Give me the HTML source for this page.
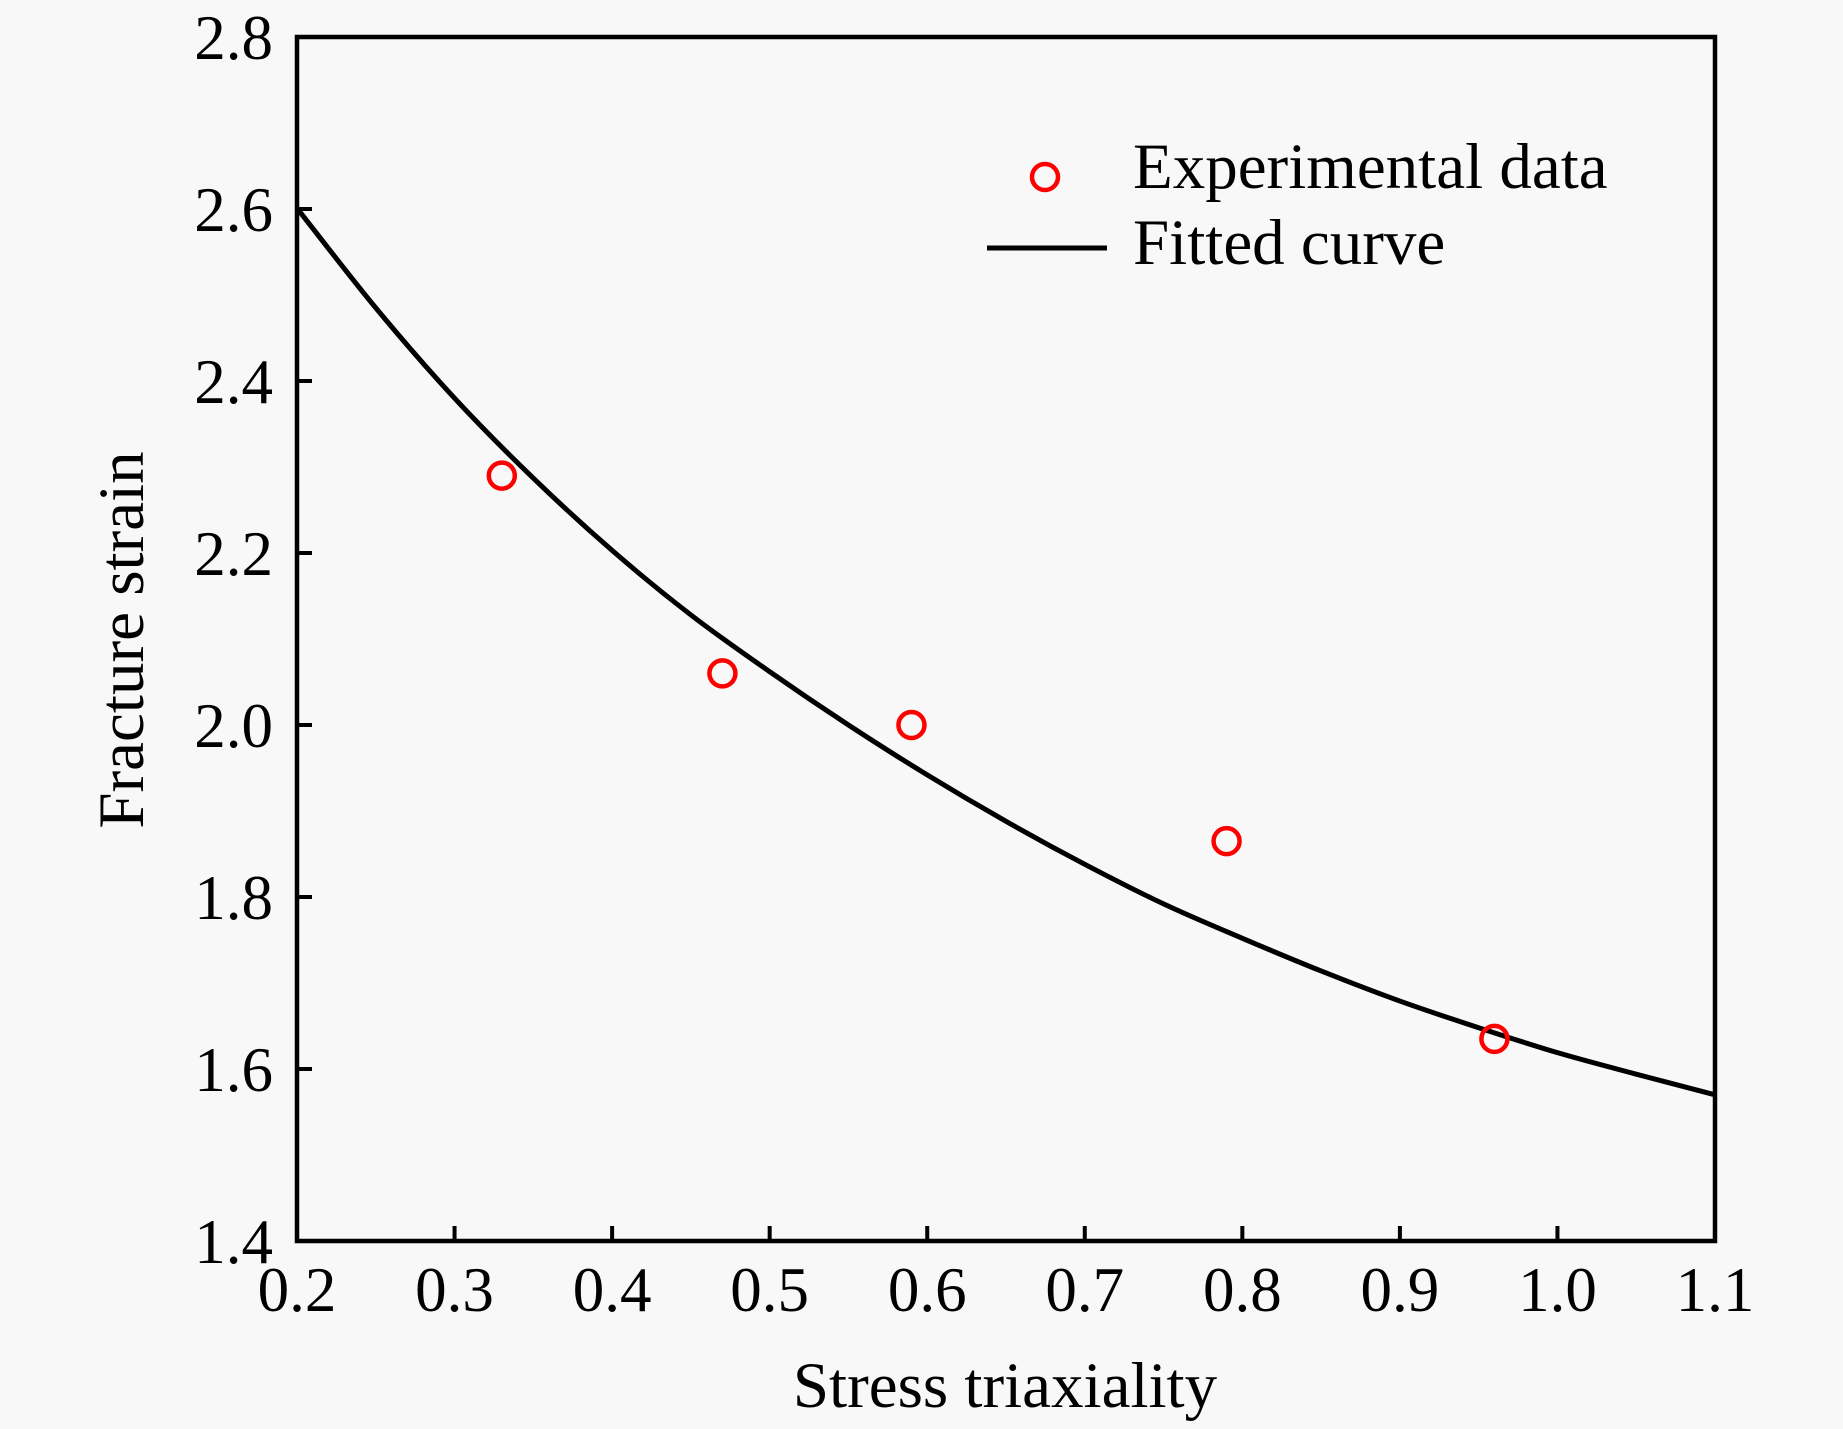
<!DOCTYPE html>
<html><head><meta charset="utf-8"><style>
html,body{margin:0;padding:0;background:#f8f8f8;}
svg{display:block;font-family:"Liberation Serif",serif;}
</style></head><body>
<svg id="chart" width="1843" height="1429" viewBox="0 0 1843 1429">
<rect width="1843" height="1429" fill="#f8f8f8"/>
<g id="plot"></g>
</svg>
<script>
const xTicks=[0.2,0.3,0.4,0.5,0.6,0.7,0.8,0.9,1.0,1.1];
const xTickLabels=["0.2","0.3","0.4","0.5","0.6","0.7","0.8","0.9","1.0","1.1"];
const yTicks=[1.4,1.6,1.8,2.0,2.2,2.4,2.6,2.8];
const yTickLabels=["1.4","1.6","1.8","2.0","2.2","2.4","2.6","2.8"];
const expX=[0.33,0.47,0.59,0.79,0.96];
const expY=[2.29,2.06,2.00,1.865,1.635];
const fitX=[0.2,0.25,0.3,0.35,0.4,0.45,0.5,0.55,0.6,0.65,0.7,0.75,0.8,0.85,0.9,0.95,1.0,1.05,1.1];
const fitY=[2.601,2.485,2.38,2.287,2.203,2.128,2.062,2.0,1.942,1.888,1.838,1.792,1.752,1.714,1.679,1.648,1.619,1.594,1.570];

const L=297,R=1715,T=37,B=1241;
const xs=v=>L+(v-0.2)/(1.1-0.2)*(R-L);
const ys=v=>B-(v-1.4)/(2.8-1.4)*(B-T);
const NS="http://www.w3.org/2000/svg";
const g=document.getElementById('plot');
function mk(tag,attrs){const e=document.createElementNS(NS,tag);for(const k in attrs)e.setAttribute(k,attrs[k]);g.appendChild(e);return e;}

const P=fitX.map((x,i)=>[xs(x),ys(fitY[i])]);
let d=`M${P[0][0]},${P[0][1]}`;
for(let i=0;i<P.length-1;i++){
  const p0=P[Math.max(0,i-1)],p1=P[i],p2=P[i+1],p3=P[Math.min(P.length-1,i+2)];
  const c1=[p1[0]+(p2[0]-p0[0])/6,p1[1]+(p2[1]-p0[1])/6];
  const c2=[p2[0]-(p3[0]-p1[0])/6,p2[1]-(p3[1]-p1[1])/6];
  d+=` C${c1[0]},${c1[1]} ${c2[0]},${c2[1]} ${p2[0]},${p2[1]}`;
}
const curve=mk('path',{d:d,fill:'none',stroke:'#000','stroke-width':5});



expX.forEach((x,i)=>{
  const c=mk('circle',{cx:xs(x),cy:ys(expY[i]),r:13,fill:'none',stroke:'#ff0000','stroke-width':4.5});
  
  
});

const fr=mk('rect',{x:L,y:T,width:R-L,height:B-T,fill:'none',stroke:'#000','stroke-width':4.5});



xTicks.forEach((v,i)=>{
  const x=xs(v);
  if(i>0&&i<xTicks.length-1){
    const t=mk('line',{x1:x,x2:x,y1:B,y2:B-15,stroke:'#000','stroke-width':4});
    
    
  }
  const tx=mk('text',{x:x,y:1311,'font-size':63,'text-anchor':'middle',fill:'#000'});
  tx.textContent=xTickLabels[i];
  
  
});
yTicks.forEach((v,i)=>{
  const y=ys(v);
  if(i>0&&i<yTicks.length-1){
    const t=mk('line',{x1:L,x2:L+15,y1:y,y2:y,stroke:'#000','stroke-width':4});
    
    
  }
  const tx=mk('text',{x:273,y:y+22,'font-size':63,'text-anchor':'end',fill:'#000'});
  tx.textContent=yTickLabels[i];
  
  
});

const xt=mk('text',{x:1005,y:1407,'font-size':65,'text-anchor':'middle',fill:'#000'});
xt.textContent='Stress triaxiality';


const yt=mk('text',{x:0,y:0,'font-size':65,'text-anchor':'middle',fill:'#000',transform:'translate(143,640) rotate(-90)'});
yt.textContent='Fracture strain';



const lm=mk('circle',{cx:1045,cy:177,r:13,fill:'none',stroke:'#ff0000','stroke-width':4.5});


const l1=mk('text',{x:1133,y:188,'font-size':65,fill:'#000'});
l1.textContent='Experimental data';


const ll=mk('line',{x1:987,x2:1107,y1:248,y2:248,stroke:'#000','stroke-width':5});


const l2=mk('text',{x:1133,y:264,'font-size':65,fill:'#000'});
l2.textContent='Fitted curve';


</script>
</body></html>
